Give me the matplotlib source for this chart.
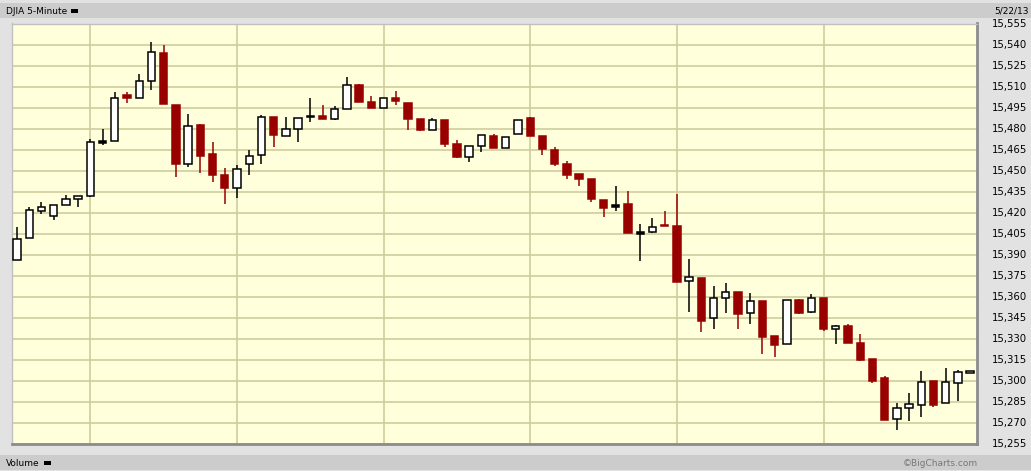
import matplotlib
matplotlib.use("Agg")
import matplotlib.pyplot as plt
from matplotlib.patches import Rectangle
import numpy as np

# 5-minute OHLC bars, DJIA 5/22/13
opens = [15386.4, 15401.9, 15421.2, 15417.6, 15425.5, 15429.8, 15431.9, 15470.0, 15471.2, 15504.3,
         15501.9, 15514.1, 15534.3, 15497.1, 15454.8, 15482.9, 15462.1, 15447.1, 15437.6, 15454.8,
         15461.2, 15488.4, 15474.8, 15479.8, 15488.0, 15489.3, 15486.9, 15494.1, 15511.2, 15499.1,
         15494.5, 15501.9, 15498.6, 15487.1, 15479.1, 15486.4, 15469.3, 15459.8, 15467.6, 15475.0,
         15466.2, 15476.2, 15487.9, 15475.0, 15465.0, 15455.0, 15447.9, 15444.3, 15429.3, 15424.3,
         15426.4, 15405.0, 15406.2, 15411.4, 15410.7, 15371.2, 15373.6, 15344.8, 15359.1, 15363.6,
         15348.4, 15357.1, 15332.1, 15326.2, 15357.9, 15349.5, 15359.3, 15336.9, 15339.3, 15327.1,
         15315.7, 15302.1, 15272.9, 15280.5, 15282.6, 15300.0, 15284.1, 15298.4, 15305.5]
highs = [15409.8, 15424.3, 15427.9, 15425.5, 15432.6, 15431.9, 15472.9, 15480.0, 15506.4, 15506.4,
         15519.3, 15542.1, 15539.5, 15497.1, 15490.7, 15483.6, 15470.7, 15452.1, 15454.3, 15465.0,
         15489.8, 15488.4, 15488.4, 15487.6, 15501.9, 15497.1, 15496.2, 15517.1, 15511.9, 15503.6,
         15501.6, 15507.1, 15498.6, 15487.1, 15487.9, 15486.4, 15472.1, 15467.6, 15475.5, 15476.4,
         15474.1, 15486.2, 15488.6, 15475.0, 15467.1, 15457.1, 15447.9, 15444.3, 15429.3, 15439.3,
         15435.7, 15412.1, 15416.4, 15421.4, 15433.6, 15387.1, 15373.6, 15367.9, 15370.0, 15363.6,
         15362.9, 15357.1, 15332.1, 15357.6, 15358.6, 15362.1, 15359.3, 15340.0, 15340.7, 15333.6,
         15315.7, 15303.8, 15284.1, 15291.4, 15307.1, 15300.0, 15309.3, 15307.6, 15307.1]
lows = [15386.4, 15401.9, 15418.8, 15414.5, 15425.5, 15423.8, 15431.0, 15468.1, 15471.2, 15498.1,
        15501.9, 15507.4, 15497.4, 15445.2, 15452.4, 15448.1, 15442.1, 15425.9, 15430.2, 15446.6,
        15454.5, 15466.6, 15474.8, 15470.2, 15484.5, 15486.6, 15485.9, 15494.1, 15498.8, 15494.5,
        15494.5, 15496.6, 15478.8, 15478.1, 15479.1, 15467.1, 15458.8, 15455.9, 15463.1, 15465.9,
        15466.2, 15476.2, 15474.5, 15460.9, 15453.1, 15443.8, 15438.8, 15427.4, 15416.6, 15420.9,
        15405.2, 15385.9, 15405.2, 15410.2, 15370.9, 15349.5, 15335.2, 15337.4, 15348.8, 15337.4,
        15340.9, 15319.5, 15317.4, 15326.2, 15347.4, 15348.8, 15335.9, 15326.6, 15327.4, 15314.3,
        15298.8, 15272.4, 15265.2, 15271.6, 15274.5, 15281.2, 15284.1, 15285.5, 15305.5]
closes = [15401.2, 15421.9, 15424.1, 15425.5, 15429.8, 15431.9, 15470.5, 15471.0, 15501.9, 15501.6,
          15514.1, 15534.8, 15497.4, 15455.0, 15481.9, 15460.2, 15446.6, 15437.4, 15451.2, 15460.5,
          15488.4, 15475.2, 15479.8, 15487.6, 15489.0, 15486.6, 15494.1, 15511.2, 15498.8, 15494.5,
          15501.6, 15499.5, 15486.6, 15478.8, 15486.2, 15468.8, 15459.5, 15467.6, 15475.5, 15465.9,
          15474.1, 15486.2, 15474.5, 15465.2, 15454.5, 15446.6, 15443.8, 15429.5, 15423.1, 15425.3,
          15405.2, 15406.0, 15409.8, 15410.2, 15370.9, 15374.1, 15343.1, 15359.1, 15363.4, 15348.1,
          15356.9, 15331.0, 15325.9, 15357.6, 15348.8, 15359.1, 15337.4, 15339.1, 15327.4, 15315.0,
          15300.2, 15272.4, 15280.5, 15283.4, 15299.1, 15283.1, 15299.1, 15306.2, 15307.1]

price_ticks = list(range(15255, 15556, 15))
hour_bars = [6, 18, 30, 42, 54, 66]
title_text = "DJIA 5-Minute"
date_text = "5/22/13"

W, H = 1031, 471
fig = plt.figure(figsize=(W / 100, H / 100), dpi=100)
fig.patch.set_facecolor("#E2E2E2")
renderer = fig.canvas.get_renderer()

# header and footer bands
fig.add_artist(Rectangle((0, 1 - 18 / H), 1, 15 / H, transform=fig.transFigure,
                         facecolor="#CCCCCC", edgecolor="none", zorder=0))
fig.add_artist(Rectangle((0, 1 / H), 1, 15 / H, transform=fig.transFigure,
                         facecolor="#CCCCCC", edgecolor="none", zorder=0))


def label_with_box(xpx, ypx, s):
    t = fig.text(xpx / W, ypx / H, s, fontsize=6.5, va="center", ha="left", color="black")
    bb = t.get_window_extent(renderer=renderer)
    fig.add_artist(Rectangle(((bb.x1 + 4) / W, (ypx - 2) / H), 7 / W, 4 / H,
                             transform=fig.transFigure, facecolor="black", edgecolor="none"))


label_with_box(6, H - 11, title_text)
label_with_box(6, 8, "Volume")
fig.text(1029 / W, 1 - 11 / H, date_text, fontsize=6.5, va="center", ha="right", color="black")
fig.text(978 / W, 8 / H, "\u00a9BigCharts.com", fontsize=6.5, va="center", ha="right",
         color="#777777")

left, right = 12 / W, 977 / W
bottom, top = (H - 444) / H, (H - 23.5) / H
ax = fig.add_axes([left, bottom, right - left, top - bottom])
ax.set_facecolor("#FFFFDC")

n = len(opens)
x = np.arange(n)
o = np.array(opens); h = np.array(highs); l = np.array(lows); c = np.array(closes)
up = c >= o
red = "#990000"

ax.set_xlim(-0.41, 78.56)
ax.set_ylim(15255, 15555)

for yv in price_ticks:
    ax.axhline(yv, color="#CDCD9E", lw=1.2, zorder=1)
for xv in hour_bars:
    ax.axvline(xv, color="#CDCD9E", lw=1.2, zorder=1)

wick_colors = ["black" if u else red for u in up]
ax.vlines(x, l, h, colors=wick_colors, lw=1.1, zorder=2)

bw = 0.6
for i in range(n):
    lo = min(o[i], c[i]); hi = max(o[i], c[i])
    height = max(hi - lo, 0.4)
    if up[i]:
        fc = "white" if height > 1.2 else "black"
        ax.bar(x[i], height, bottom=lo, width=bw, facecolor=fc, edgecolor="black",
               linewidth=1.1, zorder=3)
    else:
        ax.bar(x[i], height, bottom=lo, width=bw, facecolor=red, edgecolor=red,
               linewidth=1.1, zorder=3)

ax.set_xticks([]); ax.set_yticks([])
for s in ["left", "top"]:
    ax.spines[s].set_color("#C0C0C0"); ax.spines[s].set_linewidth(1)
for s in ["right", "bottom"]:
    ax.spines[s].set_color("#8C8C8C"); ax.spines[s].set_linewidth(2)

for yv in price_ticks:
    yf = (H - (24 + (15555 - yv) * 1.4)) / H
    fig.text(1027 / W, yf, f"{yv:,}", fontsize=7.3, ha="right", va="center", color="black")

fig.savefig("out.png", dpi=100, facecolor=fig.get_facecolor())
